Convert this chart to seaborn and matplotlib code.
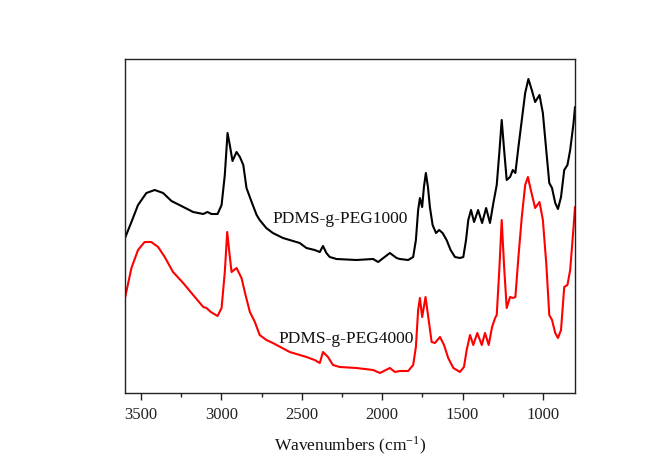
import matplotlib
matplotlib.use("Agg")
import matplotlib.pyplot as plt
import numpy as np
import pandas as pd
import seaborn as sb
from matplotlib.ticker import MultipleLocator

# spectre (unitati arbitrare)
wn_peg1000 = [3600, 3560, 3519, 3467, 3415, 3363, 3311, 3249, 3176, 3113, 3087,
              3062, 3024, 2999, 2979, 2962, 2948, 2931, 2906, 2885, 2864, 2844,
              2812, 2781, 2762, 2721, 2680, 2617, 2513, 2471, 2420, 2388, 2368,
              2347, 2326, 2284, 2160, 2056, 2025, 1952, 1910, 1890, 1838, 1807,
              1790, 1776, 1765, 1751, 1740, 1728, 1715, 1703, 1686, 1665, 1645,
              1624, 1599, 1574, 1547, 1516, 1495, 1478, 1464, 1447, 1428, 1403,
              1378, 1353, 1329, 1308, 1287, 1271, 1256, 1241, 1225, 1204, 1187,
              1171, 1152, 1131, 1110, 1090, 1069, 1048, 1021, 1000, 979, 960,
              943, 923, 906, 887, 867, 847, 830, 809, 800]
ab_peg1000 = [155, 171, 188, 200, 203, 200, 192, 187, 181, 179, 181,
              179, 179, 188, 218, 260, 248, 232, 241, 236, 228, 205,
              191, 178, 173, 165, 160, 155, 150, 145, 143, 141, 147,
              140, 136, 134, 133, 134, 131, 140, 135, 134, 133, 136,
              153, 183, 195, 186, 206, 220, 206, 186, 168, 160, 163,
              160, 153, 143, 136, 135, 136, 153, 173, 183, 171, 183,
              170, 185, 170, 190, 208, 240, 273, 243, 213, 216, 223,
              220, 246, 273, 300, 314, 303, 291, 298, 280, 243, 210,
              205, 190, 184, 196, 223, 228, 243, 270, 286]

wn_peg4000 = [3600, 3560, 3519, 3478, 3436, 3394, 3353, 3301, 3238, 3176, 3113,
              3093, 3066, 3024, 2999, 2979, 2964, 2951, 2937, 2906, 2875, 2850,
              2823, 2792, 2762, 2720, 2680, 2575, 2471, 2420, 2388, 2368, 2337,
              2306, 2264, 2160, 2056, 2014, 1952, 1920, 1890, 1838, 1807, 1790,
              1776, 1765, 1751, 1730, 1713, 1692, 1672, 1640, 1615, 1589, 1557,
              1516, 1491, 1474, 1453, 1433, 1408, 1380, 1360, 1337, 1316, 1297,
              1287, 1271, 1256, 1241, 1225, 1204, 1187, 1171, 1152, 1131, 1110,
              1093, 1075, 1048, 1021, 1000, 979, 960, 943, 923, 906, 887,
              867, 847, 830, 809, 800]
ab_peg4000 = [95, 125, 143, 151, 151, 146, 136, 121, 110, 98, 86,
              85, 81, 77, 85, 121, 161, 141, 121, 125, 115, 98,
              81, 71, 58, 53, 50, 41, 36, 33, 30, 41, 36,
              28, 26, 25, 23, 20, 25, 21, 22, 22, 28, 46,
              83, 95, 76, 96, 76, 51, 50, 56, 48, 35, 25,
              21, 26, 43, 58, 48, 60, 48, 60, 48, 66, 75,
              78, 123, 173, 126, 85, 96, 95, 96, 136, 176, 208,
              216, 203, 185, 191, 173, 130, 78, 73, 60, 55, 63,
              106, 108, 123, 166, 186]

etichete = ["PDMS-g-PEG1000", "PDMS-g-PEG4000"]
poz_etichete = [(2681, 174), (2648, 54)]
x_ticks = [3500, 3000, 2500, 2000, 1500, 1000]

assert len(wn_peg1000) == len(ab_peg1000)
assert len(wn_peg4000) == len(ab_peg4000)

sb.set_style("white")
plt.rcParams["font.family"] = ["Liberation Serif", "DejaVu Serif"]
plt.rcParams["mathtext.fontset"] = "stix"

fig = plt.figure(figsize=(6.54, 4.66), dpi=100)
ax = fig.add_axes([125 / 654, 1 - 393 / 466, 450 / 654, 334 / 466])

sb.lineplot(x=wn_peg1000, y=ab_peg1000, ax=ax, color="black", lw=1.5,
            sort=False, estimator=None, solid_joinstyle="round")
sb.lineplot(x=wn_peg4000, y=ab_peg4000, ax=ax, color="red", lw=1.5,
            sort=False, estimator=None, solid_joinstyle="round")

for t, (xt, yt) in zip(etichete, poz_etichete):
    ax.text(xt, yt, t, fontsize=12.5, ha="left", va="center", color="#111111")

ax.set_xlim(3600, 800)
ax.set_ylim(0, 334)
ax.set_xticks(x_ticks)
ax.xaxis.set_minor_locator(MultipleLocator(250))
ax.set_yticks([])
ax.tick_params(axis="x", which="major", direction="out", length=5, width=1,
               labelsize=12, pad=5, bottom=True, top=False, colors="#222222")
ax.tick_params(axis="x", which="minor", direction="out", length=3, width=1,
               bottom=True, top=False, colors="#222222")
for s in ax.spines.values():
    s.set_color("#222222")
    s.set_linewidth(1.0)
ax.set_xlabel("Wavenumbers (cm$^{\\mathregular{-1}}$)", fontsize=12.5,
              labelpad=8, color="#111111")

fig.savefig("out.png", dpi=100, facecolor="white")
